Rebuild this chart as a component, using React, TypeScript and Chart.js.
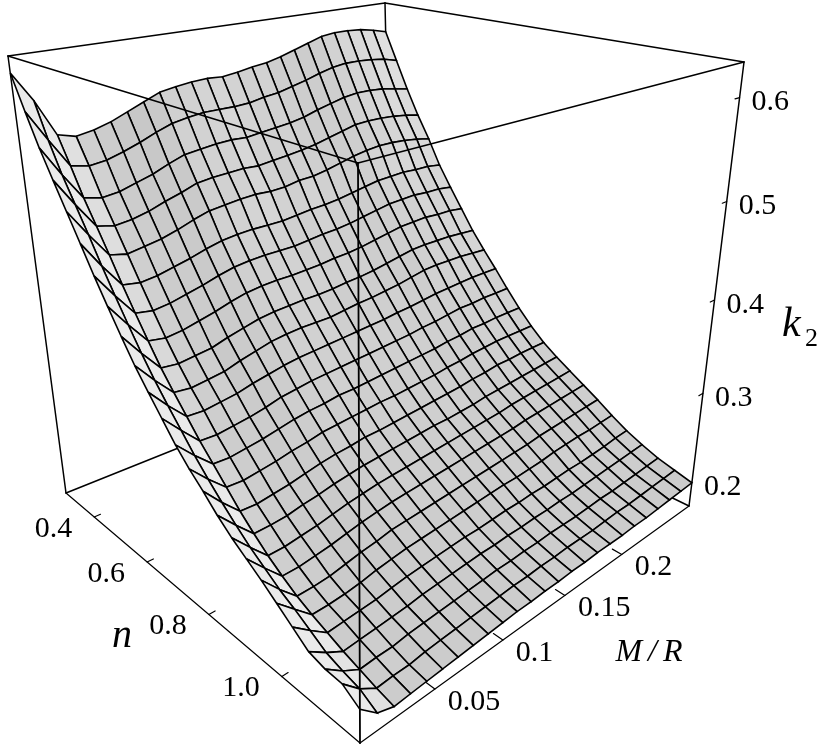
import React, { useEffect, useRef } from "react";
import { Chart, registerables } from "chart.js";

Chart.register(...registerables);

const nRange = [0.28, 1.18];
const mRange = [0, 0.265];
const kRange = [0.172, 0.633];

const nTicks = [0.4, 0.6, 0.8, 1.0];
const mTicks = [0.05, 0.1, 0.15, 0.2];
const kTicks = [0.2, 0.3, 0.4, 0.5, 0.6];
const nTickLabels = ["0.4", "0.6", "0.8", "1.0"];
const mTickLabels = ["0.05", "0.1", "0.15", "0.2"];
const kTickLabels = ["0.2", "0.3", "0.4", "0.5", "0.6"];

// k2 on the mesh: one row per n node (back to front), one column per M/R node.
const k2Rows = [
  [.617,.588,.551,.546,.549,.554,.561,.568,.575,.578,.580,.581,.580,.582,.585,.587,.591,.596,.601,.606,.608,.608,.607,.604,.600],
  [.584,.553,.524,.520,.522,.527,.533,.540,.546,.549,.551,.551,.551,.552,.555,.557,.561,.565,.570,.574,.576,.576,.575,.573,.569],
  [.553,.523,.496,.492,.494,.499,.504,.511,.517,.519,.521,.522,.521,.523,.525,.527,.530,.535,.539,.543,.545,.545,.544,.541,.538],
  [.526,.498,.472,.468,.470,.474,.480,.485,.491,.493,.494,.495,.494,.496,.498,.500,.503,.507,.511,.515,.516,.516,.515,.513,.510],
  [.500,.473,.448,.444,.447,.450,.455,.461,.466,.468,.470,.471,.470,.471,.474,.475,.478,.482,.486,.489,.491,.491,.490,.488,.485],
  [.474,.447,.423,.420,.422,.426,.430,.435,.439,.441,.442,.442,.442,.444,.446,.447,.449,.452,.455,.458,.459,.460,.459,.459,.457],
  [.448,.423,.400,.397,.399,.403,.407,.412,.416,.418,.419,.419,.419,.421,.423,.424,.426,.429,.432,.435,.436,.437,.436,.436,.434],
  [.424,.400,.378,.375,.377,.381,.385,.390,.394,.396,.397,.397,.398,.399,.401,.402,.404,.407,.410,.413,.414,.415,.414,.414,.412],
  [.401,.378,.357,.355,.357,.359,.364,.368,.372,.374,.375,.376,.376,.377,.379,.380,.382,.385,.388,.391,.392,.392,.392,.391,.390],
  [.379,.358,.339,.337,.339,.341,.346,.350,.354,.356,.357,.357,.357,.359,.361,.362,.364,.366,.369,.372,.373,.373,.373,.372,.371],
  [.360,.340,.322,.321,.323,.325,.329,.332,.335,.337,.338,.339,.340,.341,.342,.343,.345,.346,.348,.350,.351,.352,.353,.353,.353],
  [.342,.323,.305,.304,.306,.308,.311,.315,.317,.319,.320,.321,.322,.323,.324,.325,.326,.328,.329,.331,.333,.333,.334,.334,.334],
  [.324,.306,.290,.289,.291,.293,.296,.299,.301,.302,.304,.304,.305,.306,.307,.308,.309,.310,.312,.313,.315,.315,.316,.316,.316],
  [.309,.291,.275,.274,.276,.278,.281,.283,.286,.287,.288,.289,.290,.290,.291,.292,.293,.295,.296,.298,.299,.300,.300,.300,.300],
  [.296,.277,.260,.259,.261,.263,.266,.269,.271,.272,.274,.274,.275,.276,.277,.278,.279,.280,.282,.283,.285,.285,.286,.286,.286],
  [.282,.264,.247,.247,.248,.251,.253,.256,.258,.260,.261,.262,.263,.264,.265,.265,.266,.267,.269,.270,.271,.272,.273,.274,.275],
  [.270,.252,.235,.235,.237,.239,.242,.245,.247,.249,.250,.251,.252,.253,.254,.255,.256,.257,.258,.260,.261,.262,.263,.264,.265],
  [.260,.242,.225,.225,.227,.229,.232,.235,.237,.239,.240,.241,.242,.243,.244,.245,.246,.247,.248,.250,.251,.252,.253,.254,.255],
  [.250,.232,.216,.216,.217,.220,.223,.225,.228,.229,.230,.231,.232,.233,.234,.235,.236,.237,.238,.240,.241,.242,.243,.244,.245],
  [.239,.224,.209,.209,.210,.212,.215,.217,.219,.220,.221,.222,.223,.224,.225,.226,.226,.227,.228,.230,.231,.232,.232,.233,.234],
  [.228,.215,.203,.204,.205,.206,.208,.210,.211,.212,.213,.214,.214,.215,.216,.216,.217,.217,.218,.219,.219,.220,.221,.223,.224],
  [.217,.206,.197,.198,.199,.200,.201,.203,.204,.205,.206,.207,.207,.208,.208,.209,.209,.210,.210,.211,.212,.213,.214,.215,.216],
  [.213,.201,.192,.193,.193,.195,.196,.197,.198,.199,.200,.201,.201,.202,.202,.203,.203,.203,.204,.205,.205,.206,.207,.208,.209],
  [.212,.197,.187,.188,.188,.190,.191,.192,.193,.194,.195,.196,.196,.197,.197,.198,.198,.198,.199,.200,.200,.201,.202,.203,.204],
  [.202,.188,.183,.184,.185,.186,.187,.188,.189,.190,.191,.191,.192,.192,.193,.193,.194,.194,.194,.195,.195,.196,.197,.198,.199],
];

// Screen frame of the box (bottom and top corners) and its perspective.
const FRAME = {
  bL: [66, 493], bF: [360, 743], bR: [689, 506], bB: [393, 362],
  tL: [8, 56], tF: [358, 163], tR: [744, 62], tB: [385, 3],
};
const warp = (t: number, a: number) => t / (t + a * (1 - t));
const frac = (x: number, r: number[]) => (x - r[0]) / (r[1] - r[0]);
const lerp = (a: number[], b: number[], t: number) => [a[0] + (b[0] - a[0]) * t, a[1] + (b[1] - a[1]) * t];

function project(n: number, m: number, k: number) {
  const u = warp(frac(n, nRange), 1.448);
  const v = warp(frac(m, mRange), 0.79);
  const w = warp(frac(k, kRange), 1.13);
  const bot = lerp(lerp(FRAME.bL, FRAME.bF, u), lerp(FRAME.bB, FRAME.bR, u), v);
  const top = lerp(lerp(FRAME.tL, FRAME.tF, u), lerp(FRAME.tB, FRAME.tR, u), v);
  const p = lerp(bot, top, w);
  return { x: p[0], y: p[1] };
}

const nAt = (i: number) => nRange[0] + ((nRange[1] - nRange[0]) * i) / (k2Rows.length - 1);
const mAt = (j: number) => mRange[0] + ((mRange[1] - mRange[0]) * j) / (k2Rows[0].length - 1);

function lineSet(points: { x: number; y: number }[], width: number) {
  return {
    data: points, showLine: true, pointRadius: 0, borderColor: "#000", borderWidth: width,
    fill: false, tension: 0, borderCapStyle: "round", borderJoinStyle: "round",
  };
}

function buildDatasets() {
  const [n0, n1] = nRange;
  const [m0, m1] = mRange;
  const [k0, k1] = kRange;
  const paint: any[] = [];
  const edge = (a: number[], b: number[], w = 1.5) =>
    paint.push(lineSet([project(a[0], a[1], a[2]), project(b[0], b[1], b[2])], w));

  // edges behind the surface
  edge([n0, m0, k1], [n0, m1, k1]);
  edge([n0, m1, k1], [n1, m1, k1]);
  edge([n0, m1, k1], [n0, m1, k0]);
  edge([n0, m0, k0], [n0, m0, k1]);
  edge([n1, m1, k0], [n1, m1, k1]);
  edge([n0, m0, k0], [n0, m1, k0]);
  edge([n1, m1, k0], [n0, m1, k0]);
  edge([n0, m0, k0], [n1, m0, k0], 1.2);
  edge([n1, m0, k0], [n1, m1, k0], 1.2);

  // ticks
  nTicks.forEach((t) => edge([t, m0, k0], [t, m0 + 0.004, k0], 1.2));
  mTicks.forEach((t) => edge([n1, t, k0], [n1 - 0.02, t, k0], 1.2));
  kTicks.forEach((t) => edge([n1, m1 - 0.004, t], [n1, m1, t], 1.2));

  // mesh, painted from the far corner to the near corner
  const rows = k2Rows.length;
  const cols = k2Rows[0].length;
  for (let i = 0; i < rows - 1; i++) {
    for (let j = cols - 2; j >= 0; j--) {
      const a = k2Rows[i][j], b = k2Rows[i][j + 1], c = k2Rows[i + 1][j + 1], d = k2Rows[i + 1][j];
      const rise = (b - a + c - d) / 2;
      const fall = (a - d + b - c) / 2;
      const lit = 208 - (rise < 0 ? 2500 : 1800) * rise + 300 * (fall - 0.012);
      const gray = Math.round(Math.max(192, Math.min(234, lit)));
      const color = `rgb(${gray},${gray},${gray})`;
      const poly = [
        project(nAt(i), mAt(j), a),
        project(nAt(i), mAt(j + 1), b),
        project(nAt(i + 1), mAt(j + 1), c),
        project(nAt(i + 1), mAt(j), d),
        project(nAt(i), mAt(j), a),
      ];
      paint.push({
        data: poly, showLine: true, pointRadius: 0, tension: 0, fill: "shape",
        backgroundColor: color, borderColor: "#000", borderWidth: 1.6,
      });
    }
  }

  // edges in front of the surface
  edge([n0, m0, k1], [n1, m0, k1]);
  edge([n1, m1, k1], [n1, m0, k1]);
  edge([n1, m0, k0], [n1, m0, k1], 1.8);

  return paint.reverse(); // dataset 0 is painted last
}

const textPlugin = {
  id: "plotText",
  afterDatasetsDraw(chart: any) {
    const { ctx, scales } = chart;
    const px = (p: { x: number; y: number }) => ({
      x: scales.x.getPixelForValue(p.x),
      y: scales.y.getPixelForValue(p.y),
    });
    ctx.save();
    ctx.fillStyle = "#000";
    ctx.textBaseline = "middle";
    ctx.font = '30px "Liberation Serif"';
    ctx.textAlign = "left";
    kTicks.forEach((t, i) => {
      const p = px(project(nRange[1], mRange[1], t));
      ctx.fillText(kTickLabels[i], p.x + 12, p.y + 5);
    });
    mTicks.forEach((t, i) => {
      const p = px(project(nRange[1], t, kRange[0]));
      ctx.fillText(mTickLabels[i], p.x + 13, p.y + 13);
    });
    ctx.textAlign = "right";
    nTicks.forEach((t, i) => {
      const p = px(project(t, mRange[0], kRange[0]));
      ctx.fillText(nTickLabels[i], p.x - 22, p.y + 12);
    });
    ctx.textAlign = "center";
    ctx.font = 'italic 40px "Liberation Serif"';
    ctx.fillText("n", 122, 636);
    ctx.font = 'italic 32px "Liberation Serif"';
    (ctx as any).letterSpacing = "6px";
    ctx.fillText("M/R", 652, 653);
    (ctx as any).letterSpacing = "0px";
    ctx.textAlign = "left";
    ctx.font = 'italic 42px "Liberation Serif"';
    ctx.fillText("k", 782, 325);
    ctx.font = '26px "Liberation Serif"';
    ctx.fillText("2", 805, 339);
    ctx.restore();
  },
};

export default function App() {
  const ref = useRef<HTMLCanvasElement>(null);
  useEffect(() => {
    const chart = new Chart(ref.current as HTMLCanvasElement, {
      type: "scatter",
      data: { datasets: buildDatasets() as any },
      options: {
        animation: false,
        responsive: false,
        layout: { padding: 0 },
        clip: false as any,
        events: [],
        plugins: { legend: { display: false }, tooltip: { enabled: false }, title: { display: false } },
        scales: {
          x: { type: "linear", min: 0, max: 830, display: false },
          y: { type: "linear", min: 0, max: 756, reverse: true, display: false },
        },
      },
      plugins: [textPlugin],
    });
    return () => chart.destroy();
  }, []);
  return (
    <canvas
      ref={ref}
      width={830}
      height={756}
      style={{ position: "fixed", left: 0, top: 0, width: 830, height: 756, background: "#fff" }}
    />
  );
}
